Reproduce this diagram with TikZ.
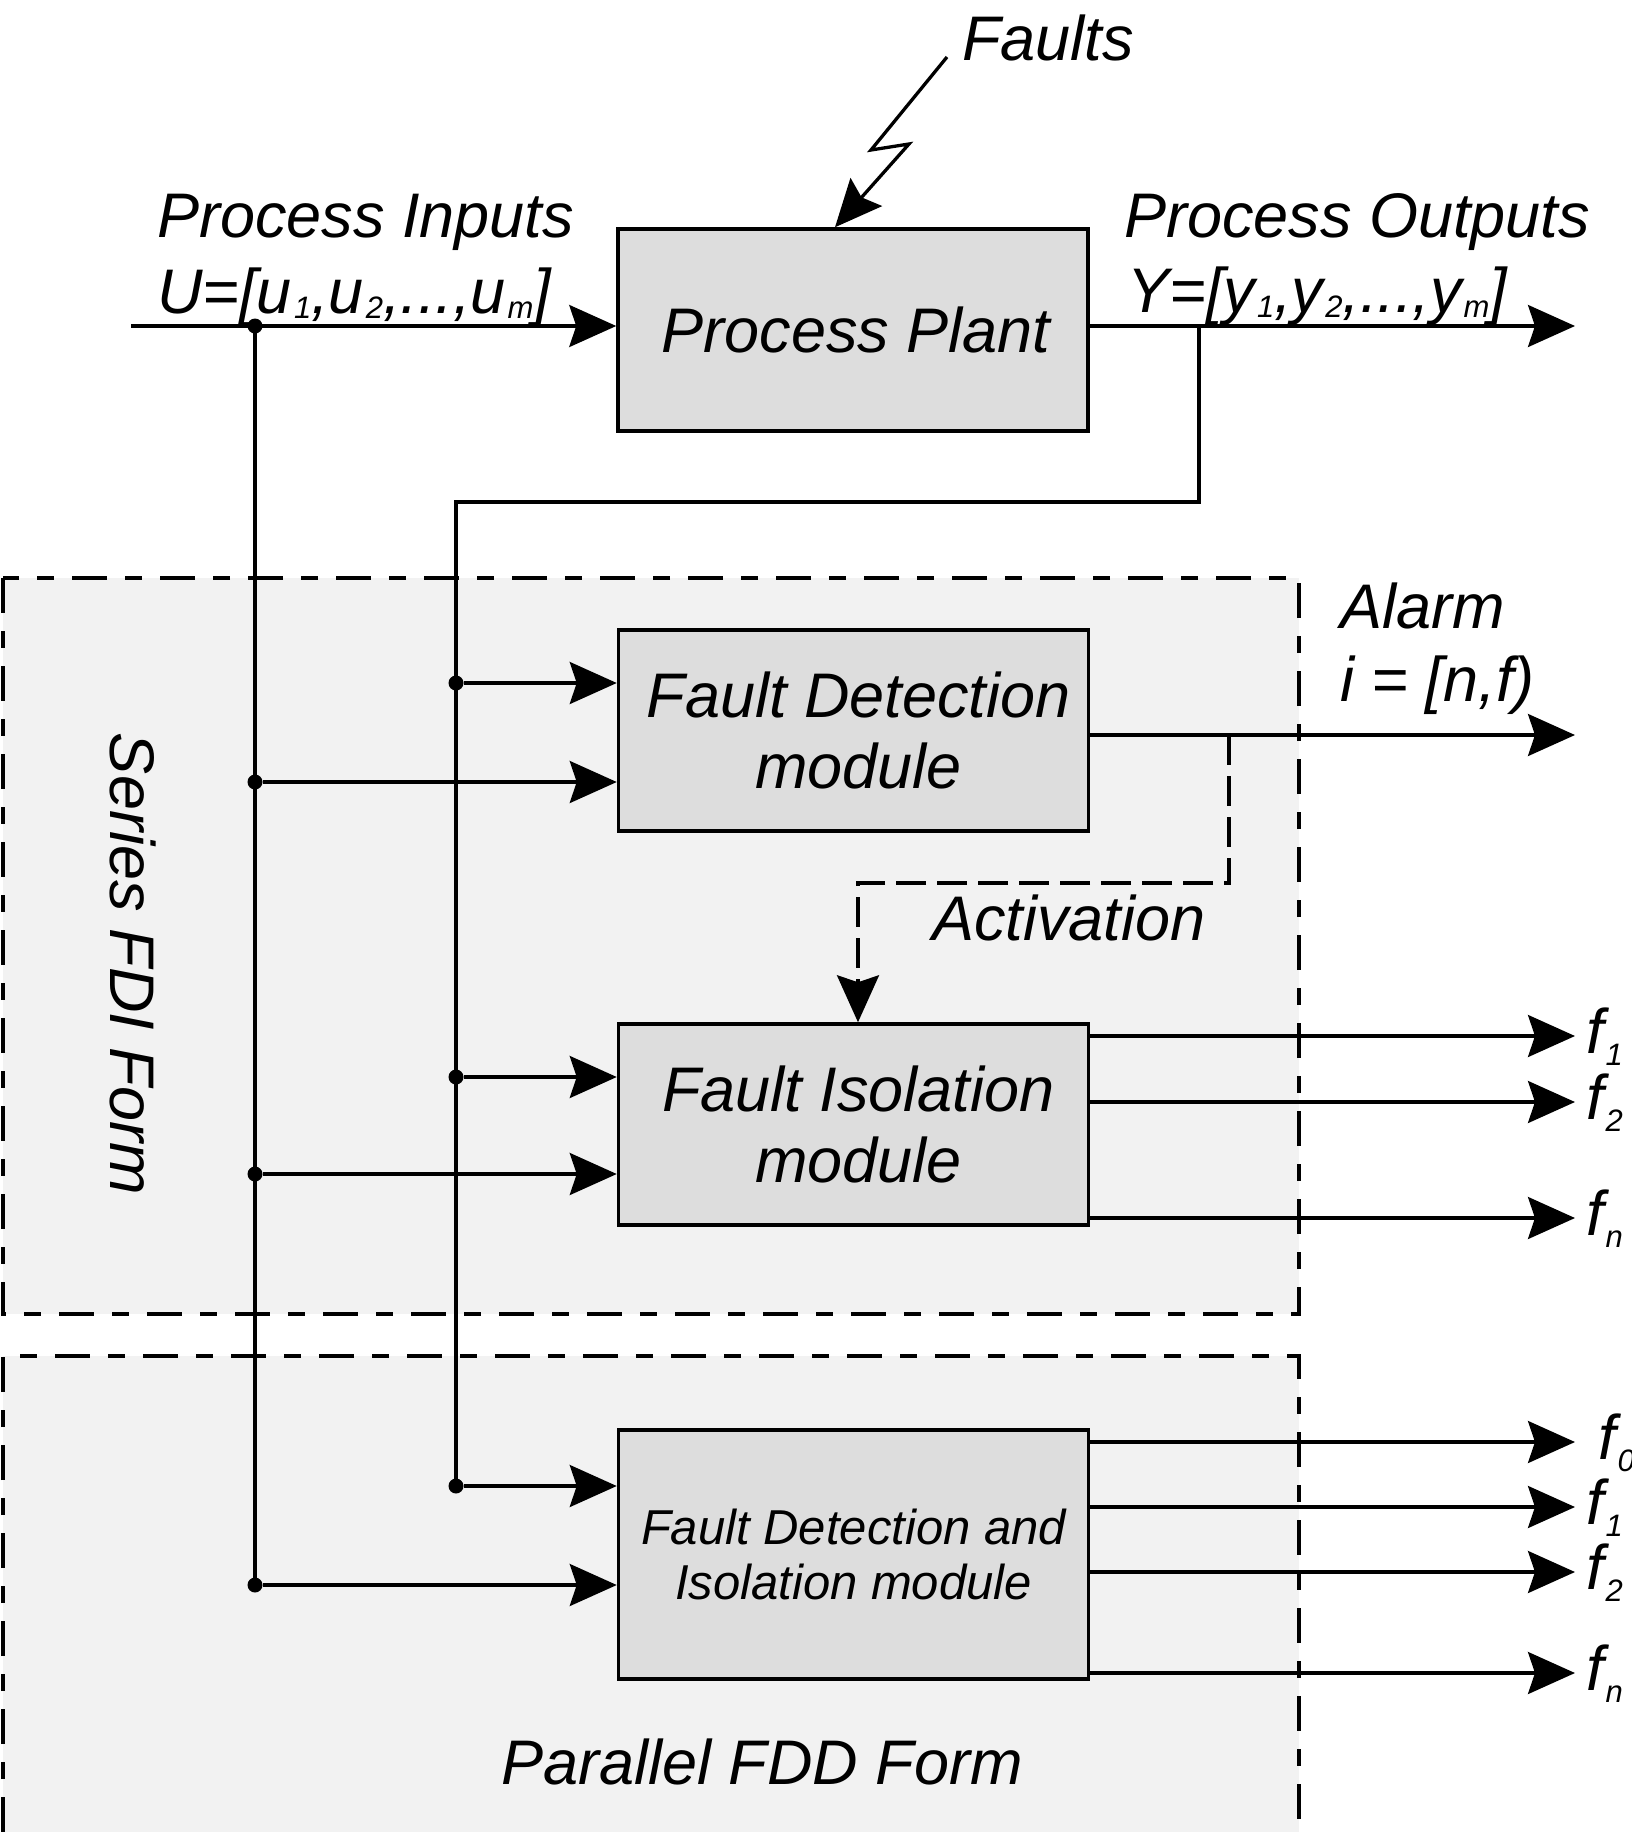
\documentclass[tikz,border=0pt]{standalone}
\usepackage{fontspec}
\setmainfont{Liberation Sans}
\usetikzlibrary{arrows.meta, positioning}

\definecolor{boxgray}{HTML}{DDDDDD}
\definecolor{formgray}{HTML}{F2F2F2}

% small lowered index, as in u_1 or f_n
\newcommand{\idx}[2][5pt]{\kern2pt\raisebox{-#1}{\fontsize{31}{31}\selectfont #2}}

\begin{document}
\begin{tikzpicture}[x=1pt, y=-1pt,
    lbl/.style={font=\fontsize{63}{73}\selectfont\itshape, inner sep=0pt},
    module/.style={draw=black, line width=3.5pt, fill=boxgray, minimum width=470pt,
        align=center, inner sep=0pt, font=\fontsize{63}{71}\selectfont\itshape},
    wire/.style={line width=3.3pt},
    sig/.style={wire, -{Stealth[length=47pt, width=42pt, inset=7pt]}},
    form/.style={line width=3.4pt, dash pattern=on 35pt off 18pt on 17pt off 18pt},
    junction/.style={circle, fill=black, inner sep=0pt, minimum size=15pt}]
    \useasboundingbox (0,0) rectangle (1632,1832);

    % the two forms
    \fill[formgray] (3,578) rectangle (1299,1314);
    \draw[form] (3,578) rectangle (1299,1314);
    \fill[formgray] (3,1356) rectangle (1299,1832);
    \draw[form] (3,1832) -- (3,1356) -- (1299,1356) -- (1299,1832);
    \node[lbl, rotate=-90] (series) at (133,964) {Series FDI Form};
    \node[lbl, anchor=base] (parallel) at (762,1784) {Parallel FDD Form};

    % modules
    \node[module, minimum height=202pt] (plant) at (853,330) {\hspace*{6pt}Process Plant};
    \node[module, minimum height=201pt] (fd) at (853.5,730.5) {\hspace*{10pt}Fault Detection\\\hspace*{10pt}module};
    \node[module, minimum height=201pt] (fi) at (853.5,1124.5) {\hspace*{10pt}Fault Isolation\\\hspace*{10pt}module};
    \node[module, minimum height=249pt, font=\fontsize{49}{55}\selectfont\itshape] (fdi)
        at (853.5,1554.5) {Fault Detection and\\Isolation module};

    % plant inputs and outputs
    \coordinate (uin) at (131,326);
    \coordinate (yout) at (1575,326);
    \draw[sig] (uin) -- (uin -| plant.west);
    \draw[sig] (plant.east |- yout) -- (yout);
    \node[lbl, anchor=base west] (inname) at (157,237) {Process Inputs};
    \node[lbl, anchor=base west] (invec) at (157,313) {U=[u\idx{1},u\idx{2},...,u\idx{m}]};
    \node[lbl, anchor=base west] (outname) at (1124,237) {Process Outputs};
    \node[lbl, anchor=base west] (outvec) at (1127,312) {Y=[y\idx{1},y\idx{2},...,y\idx{m}]};

    % faults hitting the plant
    \node[lbl, anchor=base west] (faults) at (962,60) {Faults};
    \draw[sig] (faults.base west) ++(-15,-3) -- ++(-76,93) -- ++(38,-6) -- (835,0 |- plant.north);

    % buses
    \coordinate (ytap) at (1199,326);
    \coordinate (ybus) at (456,502);
    \draw[wire] (ytap) |- (ybus) -- (456,1486);
    \draw[wire] (255,326) -- (255,1585);
    \foreach \y/\blk [count=\i] in {683/fd, 1077/fi, 1486/fdi} {
        \node[junction] (yj\i) at (456,\y) {};
        \draw[sig] (yj\i) -- (yj\i -| \blk.west);
    }
    \node[junction] (uj0) at (255,326) {};
    \foreach \y/\blk [count=\i] in {782/fd, 1174/fi, 1585/fdi} {
        \node[junction] (uj\i) at (255,\y) {};
        \draw[sig] (uj\i) -- (uj\i -| \blk.west);
    }

    % alarm and activation
    \coordinate (alarm) at (1575,735);
    \coordinate (act) at (1229,735);
    \draw[sig] (fd.east |- alarm) -- (alarm);
    \node[lbl, anchor=base west] (alarmname) at (1340,628) {Alarm};
    \node[lbl, anchor=base west] (alarmvec) at (1340,701) {i = [n,f)};
    \draw[sig, dash pattern=on 30pt off 11pt] (act) -- (1229,883) -| (858,0 |- fi.north);
    \node[lbl, anchor=base] (actname) at (1069,940) {Activation};

    % isolated faults
    \foreach \y/\k [count=\i] in {1036/1, 1102/2, 1218/n} {
        \coordinate (fiout\i) at (1575,\y);
        \draw[sig] (fi.east |- fiout\i) -- (fiout\i);
        \node[lbl, anchor=base west] (filab\i) at (1586,\y+17) {f\idx[12pt]{\k}};
    }
    \foreach \y/\k/\x [count=\i] in {1442/0/1598, 1507/1/1586, 1572/2/1586, 1673/n/1586} {
        \coordinate (fdiout\i) at (1575,\y);
        \draw[sig] (fdi.east |- fdiout\i) -- (fdiout\i);
        \node[lbl, anchor=base west] (fdilab\i) at (\x,\y+17) {f\idx[12pt]{\k}};
    }
\end{tikzpicture}
\end{document}
